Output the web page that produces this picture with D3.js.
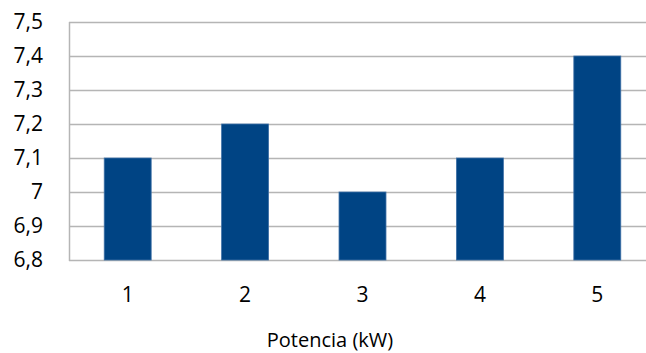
<!DOCTYPE html>
<html>
<head>
<meta charset="utf-8">
<script src="https://cdn.jsdelivr.net/npm/d3@7"></script>
<style>
  html, body { margin: 0; padding: 0; background: #fff; }
  svg { display: block; }
  text { font-family: "Open Sans", "Liberation Sans", sans-serif; fill: #000; }
</style>
</head>
<body>
<svg id="chart" width="646" height="353"></svg>
<script>
// Power levels on the x axis and the measured value for each
const categories = ["1", "2", "3", "4", "5"];
const values = [7.1, 7.2, 7.0, 7.1, 7.4];
const yTicks = [6.8, 6.9, 7.0, 7.1, 7.2, 7.3, 7.4, 7.5];
const xTitle = "Potencia (kW)";

const svg = d3.select("#chart");
const plotLeft = 69, plotRight = 656, plotTop = 22, plotBottom = 260;

const x = d3.scaleBand().domain(categories).range([plotLeft, plotRight]).paddingInner(0.6).paddingOuter(0.3);
const y = d3.scaleLinear().domain([6.8, 7.5]).range([plotBottom, plotTop]);

const fmt = v => d3.format(".1~f")(v).replace(".", ",");

// horizontal gridlines
svg.append("g")
  .selectAll("line")
  .data(yTicks)
  .join("line")
  .attr("x1", plotLeft).attr("x2", plotRight)
  .attr("y1", d => Math.round(y(d)) + 0.5).attr("y2", d => Math.round(y(d)) + 0.5)
  .attr("stroke", "#b5b5b5").attr("stroke-width", 1.5);

// left axis line
svg.append("line")
  .attr("x1", plotLeft + 0.5).attr("x2", plotLeft + 0.5)
  .attr("y1", plotTop).attr("y2", plotBottom + 1)
  .attr("stroke", "#b5b5b5").attr("stroke-width", 1.5);

// y tick labels
const yAxis = d3.axisLeft(y).tickValues(yTicks).tickFormat(fmt).tickSize(0).tickPadding(26);
const gy = svg.append("g").attr("transform", `translate(${plotLeft},0)`).call(yAxis);
gy.select(".domain").remove();
gy.selectAll("text").style("font-size", "21px").attr("font-family", null);

// bars
svg.append("g")
  .selectAll("rect")
  .data(values)
  .join("rect")
  .attr("x", (d, i) => x(categories[i]))
  .attr("width", x.bandwidth())
  .attr("y", d => y(d))
  .attr("height", d => y(6.8) - y(d))
  .attr("fill", "#004484")
  .attr("stroke", "#3e70a6")
  .attr("stroke-width", 0.8);

// x tick labels
const xAxis = d3.axisBottom(x).tickSize(0).tickPadding(27);
const gx = svg.append("g").attr("transform", `translate(0,${plotBottom})`).call(xAxis);
gx.select(".domain").remove();
gx.selectAll("text").style("font-size", "21px").attr("font-family", null);

// x axis title
svg.append("text")
  .attr("x", 330).attr("y", 347)
  .attr("text-anchor", "middle")
  .style("font-size", "20px")
  .text(xTitle);
</script>
</body>
</html>
